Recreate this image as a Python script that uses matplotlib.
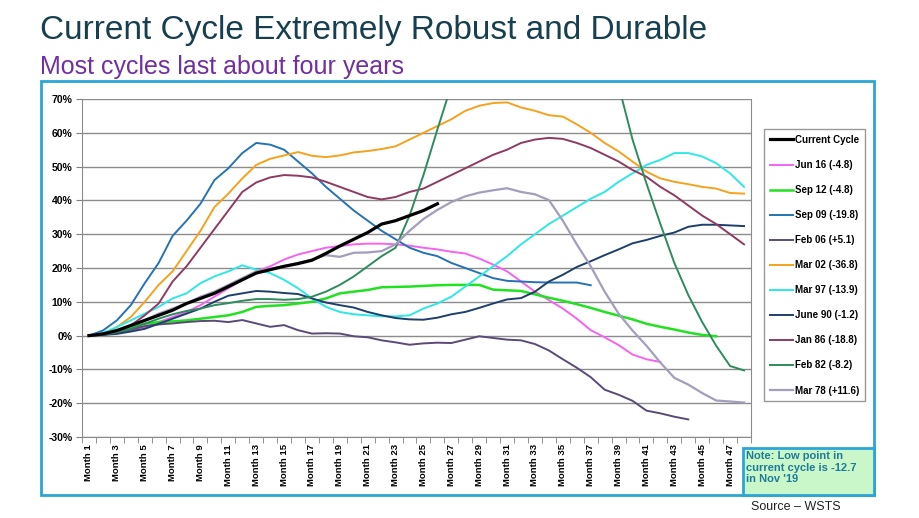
import numpy as np
import matplotlib
matplotlib.use("Agg")
import matplotlib.pyplot as plt
from matplotlib.patches import Rectangle

plt.rcParams['font.family'] = ['Liberation Sans', 'DejaVu Sans']

# values in % growth vs. month 1 of each cycle
months = list(range(1, 49))
month_labels = [f'Month {m}' for m in months]

current = [0, 0.5, 1.5, 3, 4.5, 6, 7.5, 9.5, 11, 12.5, 14.5, 16.5, 18.5, 19.5, 20.5, 21.3,
           22.3, 24.3, 26.5, 28.5, 30.5, 33, 34, 35.5, 37, 39]
jun16 = [0, 0.3, 0.8, 1.5, 2.5, 4, 5.5, 7, 9, 11.5, 14, 16.5, 19, 20.5, 22.5, 24, 25, 26,
         26.5, 27, 27.2, 27.2, 27, 26.6, 26, 25.5, 24.8, 24.3, 22.8, 21, 19, 16, 13, 10.5,
         8, 5, 1.6, -0.5, -2.8, -5.6, -7, -7.8]
sep12 = [0, 0.5, 1.5, 2.5, 3.5, 4, 4.2, 4.5, 5, 5.5, 6, 7, 8.5, 8.8, 9, 9.5, 10, 11, 12.5,
         13, 13.5, 14.3, 14.4, 14.5, 14.7, 14.9, 15, 15, 15, 13.6, 13.4, 13.2, 12.2, 11.2,
         10.3, 9.3, 8.2, 7, 5.9, 4.8, 3.5, 2.6, 1.8, 0.9, 0.2, -0.2]
sep09 = [0, 1.5, 4.5, 9, 15.5, 21.5, 29.5, 34, 39, 46, 49.5, 54, 57, 56.5, 55, 51.5, 48,
         44, 40.5, 37, 34, 31, 28.5, 26, 24.5, 23.5, 21.5, 20, 18.5, 17, 16.2, 16, 15.8,
         15.7, 15.7, 15.7, 14.9]
feb06 = [0, 0.2, 0.8, 1.8, 2.8, 3.3, 3.6, 4, 4.3, 4.4, 4, 4.6, 3.6, 2.6, 3.1, 1.6, 0.6,
         0.7, 0.6, -0.2, -0.5, -1.4, -2, -2.7, -2.3, -2.1, -2.2, -1.2, -0.2, -0.7, -1.2,
         -1.4, -2.5, -4.4, -7, -9.5, -12.3, -16, -17.5, -19.3, -22.2, -23, -24, -24.8]
mar02 = [0, 0.5, 2.5, 5.5, 10, 15, 19, 25, 31, 38, 42, 46.5, 50.5, 52.3, 53.3, 54.3, 53.2,
         52.8, 53.3, 54.2, 54.6, 55.2, 56, 58, 60, 62, 64, 66.5, 68, 68.8, 69, 67.5, 66.5,
         65.2, 64.8, 62.5, 60, 57, 54.5, 51.5, 48.5, 46.5, 45.5, 44.8, 44, 43.5, 42.2, 42]
mar97 = [0, 0.8, 2.5, 4.5, 6.5, 8.5, 11, 12.5, 15.5, 17.5, 19, 20.8, 19.5, 18.5, 16.5, 14,
         11, 8.5, 7, 6.3, 6, 5.7, 5.7, 6, 8, 9.5, 11.5, 14.5, 17.5, 20.5, 23.5, 27, 30, 33,
         35.5, 38, 40.5, 42.5, 45.5, 48, 50.5, 52, 54, 54, 53, 51, 48, 44]
june90 = [0, 0.2, 0.5, 1.2, 2, 3.5, 5, 6.5, 8, 10, 11.8, 12.5, 13.2, 13, 12.6, 12.3, 11,
          9.8, 9, 8.3, 7, 6, 5.2, 4.8, 4.7, 5.3, 6.3, 7, 8.2, 9.5, 10.7, 11.1, 13, 16, 18,
          20.3, 22, 23.8, 25.5, 27.3, 28.3, 29.5, 30.5, 32.2, 32.8, 32.8, 32.6, 32.4]
jan86 = [0, 0.3, 1, 3, 6, 9.5, 16, 20.5, 26, 31.5, 37, 42.5, 45.3, 46.8, 47.5, 47.3, 46.8,
         45.5, 44, 42.5, 41, 40.3, 41, 42.5, 43.5, 45.5, 47.5, 49.5, 51.5, 53.5, 55, 57,
         58, 58.5, 58.2, 57, 55.5, 53.5, 51.5, 49, 47, 44, 41.5, 38.5, 35.5, 33, 30, 27]
feb82 = [0, 0.3, 1, 2, 3.5, 5, 6.3, 7.3, 8, 9, 9.6, 10.3, 10.8, 10.8, 10.6, 10.8, 11.5, 13,
         15, 17.5, 20.5, 23.5, 26, 35.5, 47.5, 61, 74, 88, 100, 110, 118, 122, 122, 118,
         110, 100, 90, 82, 74, 58, 45, 33, 21.5, 12, 4, -3, -9, -10.3]
mar78 = [0, 0.5, 1.5, 3, 4.5, 6.5, 8, 9.5, 11.5, 13, 15, 17, 19, 19.8, 20.5, 21.5, 22.5,
         23.8, 23.3, 24.5, 24.6, 25, 27, 31, 34.5, 37.2, 39.5, 41.2, 42.3, 43, 43.6, 42.5,
         41.8, 40.1, 34, 27, 20.5, 13, 6.5, 1.5, -3, -8, -12.5, -14.5, -17, -19.2, -19.5,
         -19.8]

series = [
    ('Current Cycle', current, '#000000', 2.3),
    ('Jun 16 (-4.8)', jun16, '#F563F0', 1.4),
    ('Sep 12 (-4.8)', sep12, '#22E022', 1.8),
    ('Sep 09 (-19.8)', sep09, '#2672B5', 1.4),
    ('Feb 06 (+5.1)', feb06, '#5B4A78', 1.4),
    ('Mar 02 (-36.8)', mar02, '#F5A21E', 1.4),
    ('Mar 97 (-13.9)', mar97, '#2EE8E8', 1.4),
    ('June 90 (-1.2)', june90, '#1F3F6B', 1.4),
    ('Jan 86 (-18.8)', jan86, '#8E3A63', 1.4),
    ('Feb 82 (-8.2)', feb82, '#2E8B5E', 1.4),
    ('Mar 78 (+11.6)', mar78, '#A29EBB', 1.6),
]

fig = plt.figure(figsize=(9.2, 5.18), dpi=100)
W, H = 920, 518

# titles
fig.text(40 / W, 1 - 39 / H, 'Current Cycle Extremely Robust and Durable',
         fontsize=24, color='#173F4F', va='baseline', ha='left')
fig.text(40 / W, 1 - 74 / H, 'Most cycles last about four years',
         fontsize=18, color='#7030A0', va='baseline', ha='left')

# chart border
fig.patches.append(Rectangle((41 / W, 1 - 495 / H), 833 / W, 414 / H, transform=fig.transFigure,
                             fill=False, edgecolor='#2BA6D6', lw=2, zorder=0))

ax = fig.add_axes([82 / W, 1 - 437 / H, 669 / W, 338 / H])
handles = []
for i, (name, vals, col, lw) in enumerate(series):
    z = 10 if name == 'Current Cycle' else 3 + i * 0.1
    ln, = ax.plot(months[:len(vals)], vals, color=col, lw=lw, label=name, zorder=z,
                  solid_joinstyle='round')
    handles.append(ln)

ax.set_xlim(0.5, 48.5)
ax.set_ylim(-30, 70)
yt = list(range(-30, 71, 10))
ax.set_yticks(yt, [f'{v}%' for v in yt])
ax.set_xticks(months[::2], month_labels[::2], rotation=90)
ax.set_xticks(np.arange(0.5, 49, 1), minor=True)
ax.tick_params(axis='x', which='major', length=0, pad=5, labelsize=6.8)
ax.tick_params(axis='x', which='minor', length=4, color='#808080')
ax.tick_params(axis='y', length=4, color='#808080', pad=3, labelsize=7.5)
for lab in ax.get_xticklabels() + ax.get_yticklabels():
    lab.set_fontweight('bold')
ax.grid(axis='y', color='#8C8C8C', lw=1)
ax.set_axisbelow(True)
ax.spines['top'].set_visible(False)
for s in ['left', 'bottom', 'right']:
    ax.spines[s].set_color('#8C8C8C')

leg = fig.legend(handles=handles, loc='upper left', bbox_to_anchor=(764 / W, 1 - 129 / H),
                 frameon=True, fancybox=False, edgecolor='#808080',
                 prop=dict(weight='bold', size=7), handlelength=2.4, handletextpad=0.15,
                 labelspacing=1.55, borderpad=0.6, borderaxespad=0)
leg.get_frame().set_linewidth(1)

# note box
fig.patches.append(Rectangle((743 / W, 1 - 495 / H), 131 / W, 47 / H, transform=fig.transFigure,
                             facecolor='#C9F7C9', edgecolor='#2BA6D6', lw=2, zorder=5))
fig.text(746 / W, 1 - 451 / H, "Note: Low point in\ncurrent cycle is -12.7\nin Nov '19",
         fontsize=8, fontweight='bold', color='#1F7A9A', va='top', ha='left',
         linespacing=1.2, zorder=6)

fig.text(751 / W, 1 - 507 / H, 'Source \u2013 WSTS', fontsize=9, color='#222222',
         va='center', ha='left')

fig.savefig('out.png', dpi=100)
